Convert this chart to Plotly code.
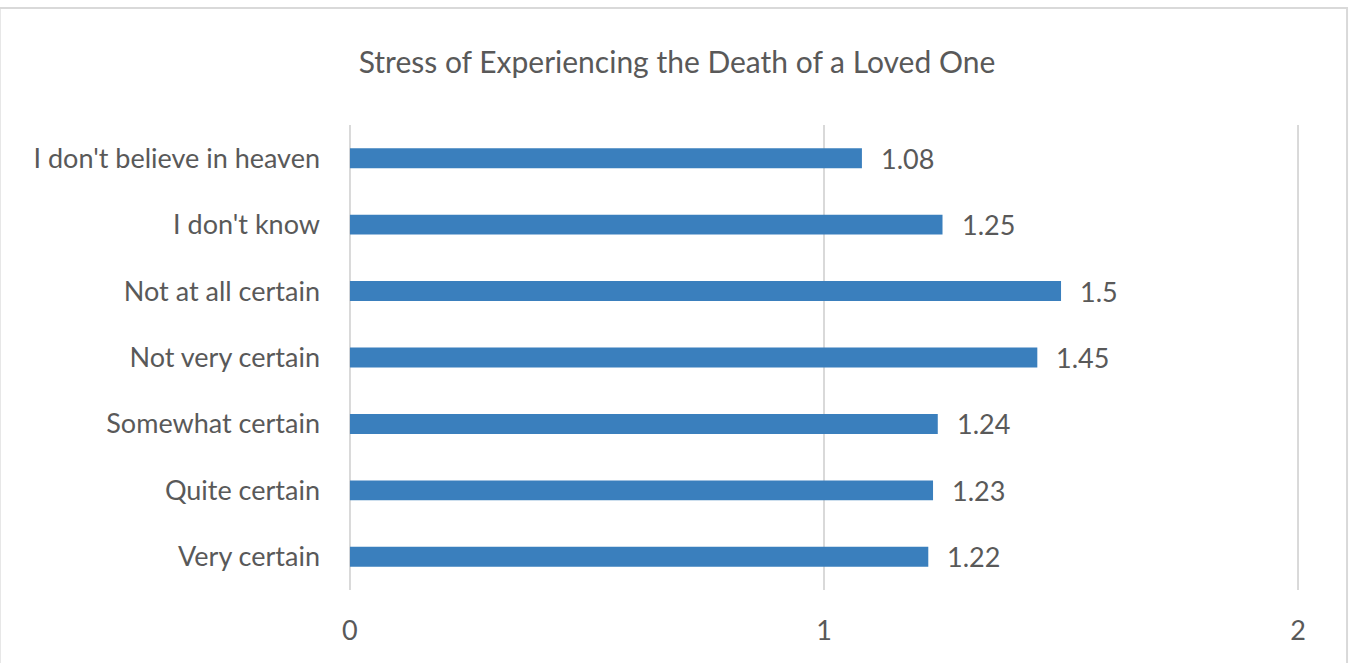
import plotly.graph_objects as go

# Survey categories (bottom to top) and mean stress scores
categories = [
    "Very certain",
    "Quite certain",
    "Somewhat certain",
    "Not very certain",
    "Not at all certain",
    "I don't know",
    "I don't believe in heaven",
]
stress_scores = [1.22, 1.23, 1.24, 1.45, 1.5, 1.25, 1.08]
x_ticks = [0, 1, 2]

FONT = "Lato"
TEXT_GRAY = "#595959"
BAR_BLUE = "#3a7fbd"
GRID = "#d9d9d9"

fig = go.Figure(
    go.Bar(
        x=stress_scores,
        y=categories,
        orientation="h",
        marker=dict(color=BAR_BLUE, line=dict(width=0)),
        hoverinfo="x+y",
    )
)

# Value labels placed just past the end of each bar
for cat, val in zip(categories, stress_scores):
    fig.add_annotation(
        x=val, y=cat, text=f"{val:g}", xanchor="left", yanchor="middle",
        xshift=17, showarrow=False,
        font=dict(family=FONT, size=27, color=TEXT_GRAY),
    )

# Vertical gridlines at every tick, including the two ends of the axis
for t in x_ticks:
    fig.add_shape(
        type="line", xref="x", yref="paper", x0=t, x1=t, y0=0, y1=1,
        line=dict(color=GRID, width=2), layer="below",
    )

# Light frame around the whole chart
fig.add_shape(
    type="rect", xref="paper", yref="paper",
    x0=-349 / 949, x1=(1346 - 349) / 949, y0=-0.2, y1=1 + 117 / 465,
    line=dict(color=GRID, width=2), fillcolor="rgba(0,0,0,0)", layer="below",
)

fig.update_layout(
    width=1351, height=663,
    margin=dict(l=349, r=52, t=125, b=73),
    paper_bgcolor="white", plot_bgcolor="white",
    bargap=0.7,
    showlegend=False,
    title=dict(
        text="Stress of Experiencing the Death of a Loved One",
        x=(361 + 993) / 2 / 1351, xanchor="center",
        y=1 - 62 / 663, yanchor="middle",
        font=dict(family=FONT, size=30, color=TEXT_GRAY),
    ),
    xaxis=dict(
        range=[-0.002, 2.002], tickvals=x_ticks, ticktext=[str(t) for t in x_ticks],
        showgrid=False,
        zeroline=False, showline=False,
        ticks="", ticklabelstandoff=22,
        tickfont=dict(family=FONT, size=27, color=TEXT_GRAY),
        fixedrange=True,
    ),
    yaxis=dict(
        categoryorder="array", categoryarray=categories,
        showgrid=False, zeroline=False, showline=False,
        ticks="", ticklabelstandoff=28,
        tickfont=dict(family=FONT, size=27, color=TEXT_GRAY),
        fixedrange=True,
    ),
)

fig.write_html("out.html")
